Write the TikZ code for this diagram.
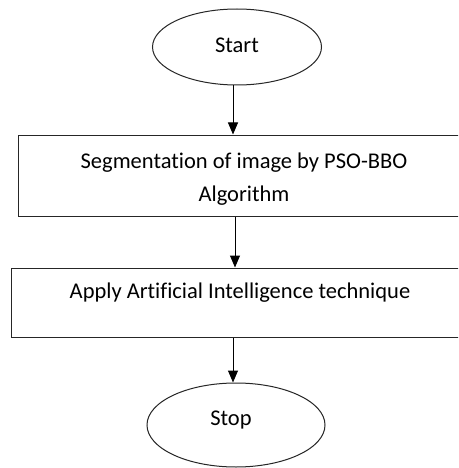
\documentclass[tikz,border=0pt]{standalone}
\usepackage{fontspec}
\setmainfont{Carlito}[Ligatures=NoCommon]
\usetikzlibrary{arrows.meta,shapes.geometric,calc}
\begin{document}
\begin{tikzpicture}[x=1pt,y=-1pt,
  every node/.style={font=\fontsize{22.5}{33}\selectfont, text=black},
  term/.style={draw=black!85, line width=1pt, ellipse, inner sep=0pt},
  procbox/.style={draw=black!85, line width=1pt, rectangle, inner sep=0pt},
  lbl/.style={align=center, inner sep=0pt},
  arr/.style={draw=black, line width=1pt, -{Triangle[length=12pt,width=10pt]}}]
\clip (0,0) rectangle (458,468);
\fill[white] (0,0) rectangle (458,468);
% terminals
\node[term, minimum width=169pt, minimum height=76pt] (start) at (237,47) {};
\node[lbl] (tstart) at (237,45) {Start};
\node[term, minimum width=178pt, minimum height=84pt] (stop) at (236,425) {};
\node[lbl] (tstop) at (231,420) {Stop};
% process boxes
\node[procbox, minimum width=452pt, minimum height=81pt] (box1) at (244,175.5) {};
\node[lbl] (t1) at (244,179) {Segmentation of image by PSO-BBO\\Algorithm};
\node[procbox, minimum width=459pt, minimum height=69pt] (box2) at (240.5,302.5) {};
\node[lbl] (t2) at (240,293) {Apply Artificial Intelligence technique};
% connectors
\coordinate (a1) at ([xshift=-4pt]start.south);
\draw[arr] (a1) -- (a1 |- box1.north);
\coordinate (a2) at (235,0);
\draw[arr] (a2 |- box1.south) -- (a2 |- box2.north);
\coordinate (a3) at (233,0);
\draw[arr] (a3 |- box2.south) -- (a3 |- stop.north);
\end{tikzpicture}
\end{document}
